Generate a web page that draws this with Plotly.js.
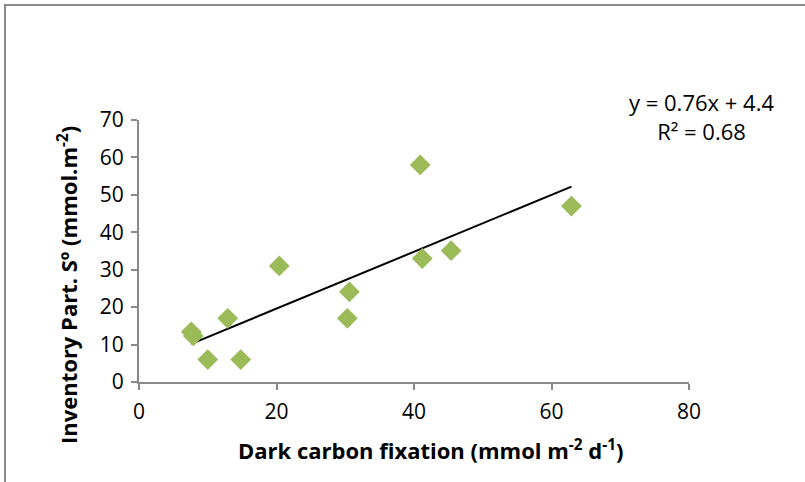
<!DOCTYPE html>
<html>
<head>
<meta charset="utf-8">
<script src="https://cdn.plot.ly/plotly-3.0.1.min.js"></script>
<style>
html,body{margin:0;padding:0;background:#fff;}
#wrap{position:relative;width:805px;height:482px;}
#chart{width:805px;height:482px;}
#frame{position:absolute;left:4px;top:4px;width:801px;height:478px;border-left:2px solid #8a8a8a;border-top:2px solid #8a8a8a;box-sizing:border-box;pointer-events:none;}
</style>
</head>
<body>
<div id="wrap"><div id="chart"></div><div id="frame"></div></div>
<script>
// Data
const darkCarbonFixation = [7.6, 7.9, 10.0, 12.9, 14.8, 20.4, 30.3, 30.6, 40.9, 41.2, 45.4, 62.9];
const inventoryPartS0    = [13.4, 12.3, 6.0, 17.0, 6.0, 31.0, 17.0, 24.1, 58.0, 33.0, 35.1, 47.0];
const trendSlope = 0.76;
const trendIntercept = 4.4;
const xTicks = [0, 20, 40, 60, 80];
const yTicks = [0, 10, 20, 30, 40, 50, 60, 70];
const equationText = "y = 0.76x + 4.4<br>R² = 0.68";

const xMin = Math.min(...darkCarbonFixation);
const xMax = Math.max(...darkCarbonFixation);
const trendX = [xMin, xMax];
const trendY = trendX.map(v => trendSlope * v + trendIntercept);

const font = "Open Sans, Liberation Sans, sans-serif";

const traces = [
  {
    x: trendX, y: trendY, type: 'scatter', mode: 'lines',
    line: {color: '#000000', width: 2}, hoverinfo: 'skip', showlegend: false
  },
  {
    x: darkCarbonFixation, y: inventoryPartS0, type: 'scatter', mode: 'markers',
    marker: {symbol: 'diamond', size: 16, color: '#9BBB59', line: {width: 0}},
    showlegend: false
  }
];

const axisCommon = {
  showgrid: false, zeroline: false, showline: true,
  linecolor: '#898989', linewidth: 2,
  ticks: 'outside', ticklen: 6, tickwidth: 2, tickcolor: '#898989',
  tickfont: {family: font, size: 21, color: '#000'}
};

const layout = {
  width: 805, height: 482,
  margin: {l: 139, r: 116, t: 120, b: 100},
  paper_bgcolor: '#fff', plot_bgcolor: '#fff',
  xaxis: Object.assign({}, axisCommon, {
    range: [0, 80], tickvals: xTicks, ticktext: xTicks.map(String),
    ticklabelstandoff: 4
  }),
  yaxis: Object.assign({}, axisCommon, {
    range: [0, 70], tickvals: yTicks, ticktext: yTicks.map(String),
    ticklabelstandoff: 3
  }),
  annotations: [
    {
      text: equationText, xref: 'paper', yref: 'paper',
      x: (701 - 139) / 550, y: (382 - 117) / 262, xanchor: 'center', yanchor: 'middle',
      showarrow: false, align: 'center',
      font: {family: font, size: 22, color: '#000'}
    },
    {
      text: "<b>Dark carbon fixation (mmol m<sup>-2</sup> d<sup>-1</sup>)</b>",
      xref: 'paper', yref: 'paper',
      x: (430 - 139) / 550, y: (382 - 449) / 262, xanchor: 'center', yanchor: 'middle',
      showarrow: false, font: {family: font, size: 22, color: '#000'}
    },
    {
      text: "<b>Inventory Part. Sº (mmol.m<sup>-2</sup>)</b>",
      xref: 'paper', yref: 'paper', textangle: -90,
      x: (67 - 139) / 550, y: (382 - 285) / 262, xanchor: 'center', yanchor: 'middle',
      showarrow: false, font: {family: font, size: 22, color: '#000'}
    }
  ]
};

Plotly.newPlot('chart', traces, layout, {displayModeBar: false, staticPlot: true});
</script>
</body>
</html>
